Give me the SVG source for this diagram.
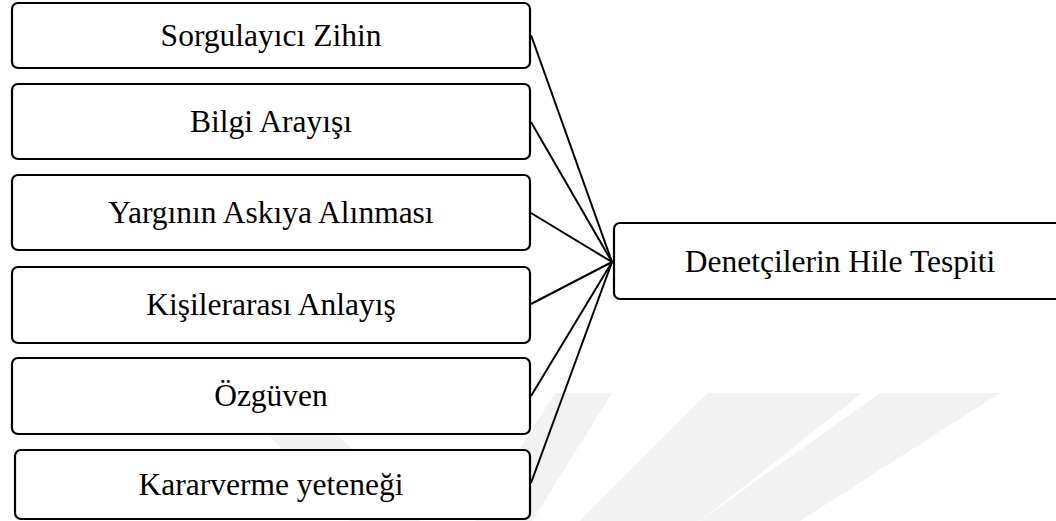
<svg xmlns="http://www.w3.org/2000/svg" width="1056" height="521" viewBox="0 0 1056 521">
  <style>
    .box { fill: #ffffff; stroke: #000000; stroke-width: 2.2; }
    .lbl { font-family: "Liberation Serif", "Times New Roman", serif; font-size: 31.5px; fill: #000000; text-anchor: middle; }
    .link { stroke: #000000; stroke-width: 2; fill: none; }
    .mark { fill: #f2f2f2; }
  </style>
  <rect width="1056" height="521" fill="#ffffff"/>

  <!-- faint background emblem -->
  <g id="emblem">
    <polygon class="mark" points="228,393 298,393 420,521 350,521"/>
    <polygon class="mark" points="555,393 612,393 532,521 475,521"/>
    <polygon class="mark" points="708,393 862,393 700,521 580,521"/>
    <polygon class="mark" points="880,393 1000,393 800,521 700,521"/>
  </g>

  <!-- connectors into the target node -->
  <g id="connectors">
    <line class="link" x1="531" y1="35" x2="612" y2="262"/>
    <line class="link" x1="531" y1="122" x2="612" y2="262"/>
    <line class="link" x1="531" y1="213" x2="612" y2="262"/>
    <line class="link" x1="531" y1="304" x2="612" y2="262"/>
    <line class="link" x1="531" y1="396" x2="612" y2="262"/>
    <line class="link" x1="531" y1="483" x2="612" y2="262"/>
  </g>

  <g id="n1">
    <rect class="box" x="12" y="3" width="518" height="65" rx="6"/>
    <text class="lbl" x="271" y="46">Sorgulayıcı Zihin</text>
  </g>
  <g id="n2">
    <rect class="box" x="12" y="84" width="518" height="75" rx="6"/>
    <text class="lbl" x="271" y="132">Bilgi Arayışı</text>
  </g>
  <g id="n3">
    <rect class="box" x="12" y="175" width="518" height="75" rx="6"/>
    <text class="lbl" x="271" y="223">Yargının Askıya Alınması</text>
  </g>
  <g id="n4">
    <rect class="box" x="12" y="267" width="518" height="76" rx="6"/>
    <text class="lbl" x="271" y="315">Kişilerarası Anlayış</text>
  </g>
  <g id="n5">
    <rect class="box" x="12" y="358" width="518" height="76" rx="6"/>
    <text class="lbl" x="271" y="406">Özgüven</text>
  </g>
  <g id="n6">
    <rect class="box" x="15" y="450" width="515" height="69" rx="6"/>
    <text class="lbl" x="271" y="495">Kararverme yeteneği</text>
  </g>
  <g id="target">
    <rect class="box" x="614" y="223" width="460" height="76" rx="6"/>
    <text class="lbl" x="840" y="272">Denetçilerin Hile Tespiti</text>
  </g>
</svg>
